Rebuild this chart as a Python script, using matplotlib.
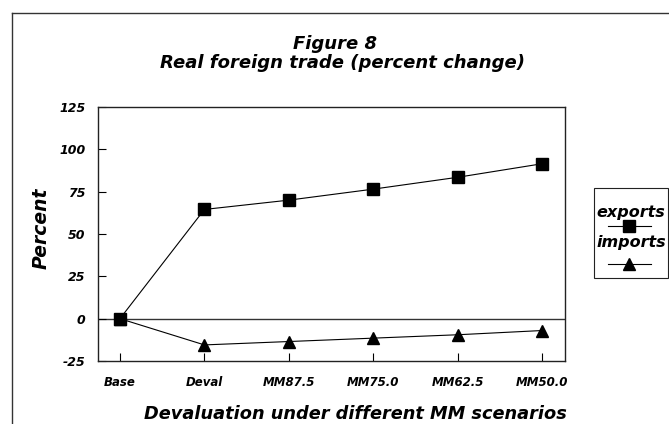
import matplotlib
matplotlib.use('Agg')
import matplotlib.pyplot as plt
from matplotlib.lines import Line2D
from matplotlib.patches import Rectangle

# data
scenarios = ['Base', 'Deval', 'MM87.5', 'MM75.0', 'MM62.5', 'MM50.0']
exports   = [0, 64.5, 70, 76.5, 83.5, 91.5]
imports   = [0, -15.5, -13.5, -11.5, -9.5, -7]
yticks    = [-25, 0, 25, 50, 75, 100, 125]

bfont = 'DejaVu Sans'   # heavy, wide -> closest to the original look
bi = dict(family=bfont, weight='bold', style='italic')

fig = plt.figure(figsize=(6.69, 4.24), dpi=100, facecolor='w')
ax = fig.add_axes([98/669, 63/424, 467/669, 254/424])

x = range(len(scenarios))
ax.plot(x, exports, color='k', lw=0.8, marker='s', ms=8, mfc='k', mec='k')
ax.plot(x, imports, color='k', lw=0.8, marker='^', ms=8, mfc='k', mec='k')
ax.axhline(0, color='#333333', lw=1.0, zorder=1)

ax.set_xlim(-0.26, 5.27)
ax.set_ylim(-25, 125)
ax.set_xticks(list(x))
ax.set_xticklabels(scenarios, fontsize=8.5, **bi)
ax.set_yticks(yticks)
ax.set_yticklabels([str(v) for v in yticks], fontsize=9, **bi)
ax.tick_params(axis='x', direction='in', length=6, width=0.8, pad=11)
ax.tick_params(axis='y', direction='in', length=6, width=0.8, pad=9)
for s in ax.spines.values():
    s.set_linewidth(1.0)
    s.set_color('#222222')

# y label and x label
fig.text(41/669, 1 - 228/424, 'Percent', rotation=90, ha='center', va='center', fontsize=13.5, **bi)
fig.text(355/669, 1 - 414/424, 'Devaluation under different MM scenarios', ha='center', va='center',
         fontsize=12.8, **bi)

# titles
fig.text(335/669, 1 - 44/424, 'Figure 8', ha='center', va='center', fontsize=13, **bi)
fig.text(342/669, 1 - 63/424, 'Real foreign trade (percent change)', ha='center', va='center',
         fontsize=13, **bi)

# outer frame (top and left edges visible)
fig.add_artist(Line2D([12/669, 12/669], [0, 1 - 13/424], transform=fig.transFigure, color='#333333', lw=1.0))
fig.add_artist(Line2D([12/669, 1], [1 - 13/424, 1 - 13/424], transform=fig.transFigure, color='#333333', lw=1.0))

# legend: label above a short line with marker
fig.add_artist(Rectangle((594/669, 1 - 278/424), 74/669, 90/424, transform=fig.transFigure,
                         fill=False, ec='#222222', lw=0.8))
for lab, mk, ty, ly in [('exports', 's', 213, 226), ('imports', '^', 243, 264)]:
    fig.text(631/669, 1 - ty/424, lab, ha='center', va='center', fontsize=11.5, **bi)
    fig.add_artist(Line2D([608/669, 651/669], [1 - ly/424, 1 - ly/424], transform=fig.transFigure,
                          color='k', lw=0.8))
    fig.add_artist(Line2D([629/669], [1 - ly/424], transform=fig.transFigure, marker=mk,
                          ms=8, color='k', lw=0))

fig.savefig('out.png', dpi=100)
